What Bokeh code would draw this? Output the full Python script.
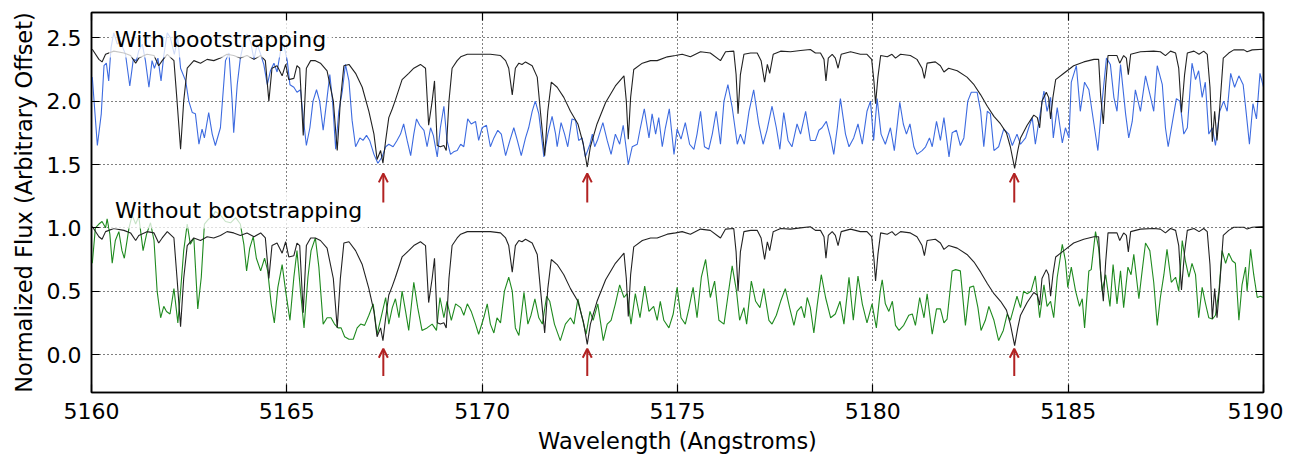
from bokeh.plotting import figure
from bokeh.models import Range1d, FixedTicker, LinearAxis, Label, Arrow, OpenHead, PrintfTickFormatter
from bokeh.embed import file_html
from bokeh.resources import INLINE

# ---------------- data ----------------
# Template (model) spectrum, normalized; drawn as-is in the lower panel and offset in the upper panel
template_wl = [
    5160.02, 5160.19, 5160.27, 5160.36, 5160.57, 5160.83, 5161.00, 5161.13, 5161.21, 5161.42,
    5161.60, 5161.72, 5161.81, 5161.94, 5162.11, 5162.19, 5162.28, 5162.36, 5162.45, 5162.62,
    5162.79, 5162.96, 5163.13, 5163.30, 5163.47, 5163.64, 5163.81, 5163.98, 5164.16, 5164.33,
    5164.45, 5164.54, 5164.62, 5164.75, 5164.88, 5164.97, 5165.05, 5165.18, 5165.26, 5165.33,
    5165.42, 5165.50, 5165.61, 5165.73, 5165.86, 5166.03, 5166.19, 5166.29, 5166.37, 5166.46,
    5166.59, 5166.76, 5166.93, 5167.10, 5167.23, 5167.31, 5167.40, 5167.46, 5167.53, 5167.61,
    5167.70, 5167.78, 5167.95, 5168.12, 5168.25, 5168.42, 5168.55, 5168.63, 5168.72, 5168.78,
    5168.85, 5168.93, 5169.02, 5169.08, 5169.15, 5169.23, 5169.36, 5169.45, 5169.62, 5169.96,
    5170.21, 5170.47, 5170.60, 5170.68, 5170.77, 5170.85, 5170.94, 5171.02, 5171.11, 5171.28,
    5171.41, 5171.49, 5171.60, 5171.68, 5171.77, 5171.92, 5172.09, 5172.26, 5172.45, 5172.59,
    5172.69, 5172.77, 5172.94, 5173.16, 5173.41, 5173.63, 5173.69, 5173.74, 5173.80, 5173.88,
    5174.10, 5174.31, 5174.48, 5174.74, 5174.95, 5175.12, 5175.33, 5175.59, 5175.84, 5176.10,
    5176.23, 5176.44, 5176.50, 5176.55, 5176.61, 5176.70, 5176.87, 5177.04, 5177.14, 5177.23,
    5177.30, 5177.36, 5177.45, 5177.64, 5177.89, 5178.15, 5178.40, 5178.53, 5178.66, 5178.75,
    5178.80, 5178.86, 5178.96, 5179.04, 5179.11, 5179.19, 5179.43, 5179.68, 5179.85, 5179.97,
    5180.03, 5180.07, 5180.13, 5180.20, 5180.37, 5180.49, 5180.58, 5180.71, 5180.96, 5181.13,
    5181.26, 5181.32, 5181.39, 5181.60, 5181.73, 5181.82, 5181.94, 5182.16, 5182.41, 5182.59,
    5182.76, 5182.93, 5183.10, 5183.27, 5183.42, 5183.52, 5183.63, 5183.71, 5183.78, 5183.95,
    5184.12, 5184.21, 5184.27, 5184.33, 5184.44, 5184.50, 5184.55, 5184.61, 5184.68, 5184.89,
    5185.14, 5185.40, 5185.66, 5185.78, 5185.83, 5185.90, 5185.96, 5186.02, 5186.13, 5186.25,
    5186.32, 5186.42, 5186.49, 5186.54, 5186.60, 5186.85, 5187.19, 5187.36, 5187.49, 5187.62,
    5187.75, 5187.83, 5187.90, 5187.98, 5188.05, 5188.22, 5188.35, 5188.47, 5188.56, 5188.63,
    5188.69, 5188.75, 5188.81, 5188.88, 5188.97, 5189.11, 5189.24, 5189.50, 5189.58, 5189.71,
    5190.00,
]
template_flux = [
    1.01, 0.93, 0.91, 0.97, 0.995, 0.98, 0.96, 0.90, 0.94, 0.97,
    0.96, 0.88, 0.92, 0.97, 0.92, 0.60, 0.22, 0.60, 0.86, 0.92,
    0.90, 0.93, 0.92, 0.94, 0.97, 0.96, 0.94, 0.96, 0.93, 0.96,
    0.92, 0.60, 0.86, 0.88, 0.80, 0.89, 0.77, 0.78, 0.88, 0.86,
    0.33, 0.86, 0.92, 0.92, 0.90, 0.84, 0.60, 0.21, 0.60, 0.88,
    0.89, 0.82, 0.71, 0.52, 0.34, 0.14, 0.21, 0.11, 0.29, 0.47,
    0.54, 0.61, 0.77, 0.82, 0.86, 0.89, 0.86, 0.41, 0.60, 0.76,
    0.25, 0.24, 0.25, 0.21, 0.60, 0.86, 0.92, 0.95, 0.97, 0.97,
    0.97, 0.96, 0.92, 0.86, 0.65, 0.86, 0.90, 0.89, 0.91, 0.88,
    0.79, 0.52, 0.17, 0.52, 0.75, 0.71, 0.63, 0.52, 0.42, 0.26,
    0.08, 0.24, 0.42, 0.59, 0.72, 0.80, 0.60, 0.30, 0.63, 0.85,
    0.90, 0.92, 0.92, 0.95, 0.96, 0.97, 0.95, 0.99, 0.98, 0.92,
    0.99, 0.995, 0.81, 0.50, 0.81, 0.97, 0.98, 0.98, 0.92, 0.75,
    0.89, 0.82, 0.97, 0.995, 0.99, 1.00, 1.008, 0.98, 0.98, 0.93,
    0.76, 0.94, 0.97, 0.94, 0.86, 0.97, 0.99, 0.97, 0.97, 0.93,
    0.75, 0.58, 0.79, 0.96, 0.95, 0.97, 0.94, 0.97, 0.96, 0.93,
    0.86, 0.78, 0.90, 0.91, 0.88, 0.83, 0.86, 0.84, 0.79, 0.73,
    0.65, 0.56, 0.48, 0.42, 0.35, 0.24, 0.07, 0.21, 0.31, 0.41,
    0.49, 0.47, 0.39, 0.60, 0.67, 0.63, 0.46, 0.63, 0.77, 0.82,
    0.88, 0.91, 0.93, 0.93, 0.65, 0.42, 0.73, 0.96, 0.96, 0.96,
    0.90, 0.96, 0.94, 0.81, 0.97, 0.99, 0.995, 0.99, 0.96, 0.995,
    0.98, 0.86, 0.51, 0.81, 0.98, 0.995, 0.97, 0.995, 0.97, 0.71,
    0.28, 0.52, 0.29, 0.55, 0.94, 0.98, 1.005, 1.005, 0.99, 1.005,
    1.01,
]
template_offset_top = 1.4

# Observed spectrum, "With bootstrapping" (upper panel)
boot_wl = [
    5160.02, 5160.15, 5160.25, 5160.32, 5160.38, 5160.44, 5160.50, 5160.57, 5160.66, 5160.74,
    5160.87, 5160.98, 5161.07, 5161.15, 5161.21, 5161.30, 5161.38, 5161.47, 5161.55, 5161.61,
    5161.70, 5161.78, 5161.85, 5161.94, 5162.02, 5162.12, 5162.21, 5162.28, 5162.41, 5162.49,
    5162.58, 5162.66, 5162.75, 5162.83, 5162.89, 5163.00, 5163.09, 5163.17, 5163.30, 5163.43,
    5163.52, 5163.60, 5163.64, 5163.73, 5163.81, 5163.90, 5163.98, 5164.07, 5164.16, 5164.24,
    5164.33, 5164.41, 5164.50, 5164.58, 5164.67, 5164.75, 5164.84, 5164.92, 5165.01, 5165.08,
    5165.18, 5165.26, 5165.35, 5165.42, 5165.50, 5165.59, 5165.67, 5165.76, 5165.84, 5165.93,
    5166.02, 5166.10, 5166.17, 5166.25, 5166.33, 5166.42, 5166.50, 5166.59, 5166.67, 5166.76,
    5166.87, 5166.95, 5167.04, 5167.12, 5167.23, 5167.33, 5167.44, 5167.53, 5167.61, 5167.72,
    5167.82, 5167.91, 5167.99, 5168.08, 5168.17, 5168.25, 5168.32, 5168.40, 5168.51, 5168.59,
    5168.68, 5168.75, 5168.85, 5168.93, 5169.02, 5169.10, 5169.19, 5169.27, 5169.36, 5169.45,
    5169.53, 5169.63, 5169.72, 5169.83, 5169.91, 5170.00, 5170.11, 5170.21, 5170.30, 5170.40,
    5170.49, 5170.60, 5170.71, 5170.81, 5170.90, 5171.00, 5171.11, 5171.19, 5171.28, 5171.36,
    5171.45, 5171.58, 5171.68, 5171.79, 5171.88, 5171.92, 5172.02, 5172.11, 5172.19, 5172.30,
    5172.39, 5172.47, 5172.56, 5172.64, 5172.76, 5172.82, 5172.88, 5172.96, 5173.09, 5173.20,
    5173.30, 5173.41, 5173.52, 5173.61, 5173.74, 5173.84, 5173.97, 5174.05, 5174.15, 5174.27,
    5174.35, 5174.44, 5174.52, 5174.61, 5174.69, 5174.79, 5174.91, 5174.99, 5175.09, 5175.20,
    5175.31, 5175.42, 5175.50, 5175.59, 5175.69, 5175.80, 5175.89, 5175.99, 5176.10, 5176.19,
    5176.29, 5176.40, 5176.53, 5176.61, 5176.71, 5176.83, 5176.95, 5177.08, 5177.19, 5177.29,
    5177.42, 5177.53, 5177.62, 5177.72, 5177.83, 5177.93, 5178.06, 5178.15, 5178.28, 5178.40,
    5178.53, 5178.62, 5178.70, 5178.81, 5178.92, 5179.00, 5179.09, 5179.17, 5179.30, 5179.39,
    5179.51, 5179.62, 5179.73, 5179.85, 5179.94, 5180.02, 5180.11, 5180.21, 5180.32, 5180.45,
    5180.55, 5180.69, 5180.78, 5180.86, 5180.95, 5181.05, 5181.13, 5181.26, 5181.35, 5181.45,
    5181.52, 5181.63, 5181.73, 5181.82, 5181.95, 5182.03, 5182.14, 5182.24, 5182.33, 5182.43,
    5182.52, 5182.67, 5182.76, 5182.84, 5182.93, 5183.01, 5183.10, 5183.22, 5183.35, 5183.48,
    5183.57, 5183.69, 5183.78, 5183.91, 5183.99, 5184.08, 5184.16, 5184.25, 5184.38, 5184.46,
    5184.55, 5184.62, 5184.72, 5184.85, 5184.93, 5185.02, 5185.08, 5185.21, 5185.31, 5185.42,
    5185.53, 5185.66, 5185.76, 5185.87, 5185.98, 5186.08, 5186.17, 5186.25, 5186.34, 5186.47,
    5186.55, 5186.64, 5186.72, 5186.85, 5186.98, 5187.11, 5187.19, 5187.28, 5187.41, 5187.49,
    5187.56, 5187.66, 5187.77, 5187.86, 5187.96, 5188.05, 5188.17, 5188.26, 5188.34, 5188.43,
    5188.51, 5188.60, 5188.69, 5188.77, 5188.88, 5188.98, 5189.07, 5189.16, 5189.26, 5189.37,
    5189.48, 5189.56, 5189.64, 5189.73, 5189.82, 5189.91, 5190.00,
]
boot_flux = [
    2.19, 1.65, 1.90, 2.28, 2.30, 2.16, 2.42, 2.54, 2.45, 2.47,
    2.37, 2.12, 2.33, 2.32, 2.40, 2.45, 2.32, 2.11, 2.32, 2.26,
    2.34, 2.16, 2.36, 2.54, 2.50, 2.37, 2.50, 2.26, 2.16, 2.00,
    1.91, 1.90, 1.66, 1.78, 1.71, 1.91, 1.74, 1.65, 1.79, 2.32,
    2.38, 2.00, 1.75, 2.13, 2.34, 2.47, 2.53, 2.47, 2.33, 2.45,
    2.37, 2.29, 2.13, 2.24, 2.30, 2.23, 2.40, 2.45, 2.32, 2.13,
    2.11, 2.07, 2.09, 1.87, 1.65, 1.79, 2.00, 2.09, 2.00, 1.77,
    2.00, 2.21, 2.00, 1.62, 1.92, 2.08, 2.29, 2.16, 1.85, 1.64,
    1.71, 1.69, 1.73, 1.69, 1.58, 1.51, 1.56, 1.64, 1.66, 1.64,
    1.69, 1.74, 1.82, 1.69, 1.57, 1.74, 1.86, 1.81, 1.77, 1.64,
    1.79, 1.73, 1.56, 1.79, 1.96, 1.69, 1.58, 1.60, 1.61, 1.66,
    1.64, 1.86, 1.82, 1.84, 1.69, 1.79, 1.81, 1.64, 1.71, 1.77,
    1.74, 1.57, 1.69, 1.79, 1.69, 1.57, 1.71, 1.79, 1.92, 2.00,
    1.90, 1.56, 1.74, 1.88, 1.74, 1.64, 1.83, 1.74, 1.64, 1.86,
    1.85, 1.69, 1.71, 1.56, 1.66, 1.74, 1.64, 1.70, 1.83, 1.69,
    1.58, 1.74, 1.66, 1.81, 1.50, 1.64, 1.66, 1.79, 1.94, 1.71,
    1.90, 1.74, 1.87, 1.64, 1.79, 1.94, 1.58, 1.78, 1.70, 1.83,
    1.66, 1.62, 1.74, 1.92, 1.64, 1.62, 1.74, 1.92, 1.66, 2.00,
    2.13, 1.95, 1.66, 1.74, 1.66, 1.92, 2.09, 1.82, 1.66, 1.77,
    1.96, 1.79, 1.62, 1.91, 1.69, 1.64, 1.82, 1.74, 1.92, 1.69,
    1.69, 1.77, 1.79, 1.84, 1.71, 1.58, 1.79, 2.02, 1.74, 1.64,
    1.71, 1.82, 1.66, 1.92, 2.00, 1.69, 2.02, 1.74, 1.66, 1.79,
    1.61, 1.99, 1.82, 1.74, 1.82, 1.64, 1.58, 1.61, 1.64, 1.71,
    1.64, 1.84, 1.69, 1.87, 1.56, 1.75, 1.77, 1.65, 1.71, 2.00,
    2.07, 2.07, 1.92, 1.64, 1.92, 1.90, 1.61, 1.64, 1.78, 1.74,
    1.65, 1.74, 1.66, 1.71, 1.79, 1.87, 1.66, 1.84, 2.08, 1.92,
    2.03, 1.71, 1.95, 1.67, 1.79, 1.71, 2.15, 2.28, 1.92, 2.15,
    2.09, 1.82, 1.61, 2.00, 2.34, 2.29, 2.03, 1.92, 2.29, 1.90,
    1.71, 1.84, 2.09, 1.92, 2.20, 2.03, 1.92, 2.28, 2.13, 1.79,
    1.64, 1.82, 2.02, 2.00, 1.74, 1.79, 2.30, 2.17, 2.24, 2.03,
    2.15, 1.74, 1.79, 1.65, 1.92, 2.00, 1.92, 2.22, 2.11, 2.20,
    2.13, 1.90, 1.66, 1.98, 1.86, 2.22, 2.11,
]

# Observed spectrum, "Without bootstrapping" (lower panel)
noboot_wl = [
    5160.02, 5160.10, 5160.19, 5160.27, 5160.36, 5160.40, 5160.47, 5160.53, 5160.61, 5160.70,
    5160.78, 5160.84, 5160.96, 5161.04, 5161.13, 5161.21, 5161.32, 5161.41, 5161.51, 5161.60,
    5161.68, 5161.77, 5161.85, 5161.92, 5162.01, 5162.11, 5162.21, 5162.28, 5162.36, 5162.45,
    5162.53, 5162.62, 5162.72, 5162.81, 5162.89, 5163.00, 5163.09, 5163.17, 5163.30, 5163.43,
    5163.56, 5163.69, 5163.81, 5163.90, 5163.97, 5164.05, 5164.14, 5164.22, 5164.33, 5164.43,
    5164.51, 5164.60, 5164.68, 5164.77, 5164.88, 5164.97, 5165.08, 5165.18, 5165.26, 5165.35,
    5165.44, 5165.54, 5165.62, 5165.73, 5165.82, 5165.93, 5166.03, 5166.13, 5166.22, 5166.31,
    5166.39, 5166.48, 5166.59, 5166.70, 5166.80, 5166.89, 5166.99, 5167.10, 5167.21, 5167.31,
    5167.41, 5167.53, 5167.61, 5167.70, 5167.78, 5167.87, 5167.95, 5168.04, 5168.12, 5168.25,
    5168.35, 5168.46, 5168.59, 5168.72, 5168.83, 5168.92, 5169.02, 5169.10, 5169.21, 5169.32,
    5169.45, 5169.53, 5169.62, 5169.72, 5169.83, 5169.91, 5170.04, 5170.13, 5170.21, 5170.30,
    5170.38, 5170.47, 5170.57, 5170.68, 5170.77, 5170.85, 5170.94, 5171.07, 5171.17, 5171.25,
    5171.35, 5171.45, 5171.54, 5171.65, 5171.73, 5171.85, 5172.00, 5172.13, 5172.26, 5172.35,
    5172.45, 5172.56, 5172.66, 5172.76, 5172.84, 5172.96, 5173.10, 5173.20, 5173.30, 5173.41,
    5173.52, 5173.63, 5173.71, 5173.81, 5173.92, 5174.04, 5174.16, 5174.27, 5174.39, 5174.48,
    5174.56, 5174.65, 5174.78, 5174.89, 5174.99, 5175.09, 5175.20, 5175.29, 5175.40, 5175.50,
    5175.61, 5175.72, 5175.84, 5175.95, 5176.06, 5176.19, 5176.29, 5176.40, 5176.51, 5176.59,
    5176.70, 5176.77, 5176.89, 5177.00, 5177.11, 5177.21, 5177.34, 5177.42, 5177.53, 5177.64,
    5177.76, 5177.87, 5177.98, 5178.06, 5178.17, 5178.25, 5178.32, 5178.40, 5178.49, 5178.58,
    5178.68, 5178.79, 5178.92, 5179.04, 5179.16, 5179.26, 5179.39, 5179.50, 5179.62, 5179.73,
    5179.85, 5179.98, 5180.09, 5180.19, 5180.24, 5180.32, 5180.41, 5180.50, 5180.58, 5180.67,
    5180.79, 5180.92, 5181.01, 5181.09, 5181.20, 5181.31, 5181.39, 5181.52, 5181.63, 5181.73,
    5181.82, 5181.90, 5182.03, 5182.12, 5182.24, 5182.37, 5182.48, 5182.58, 5182.69, 5182.77,
    5182.88, 5182.97, 5183.10, 5183.22, 5183.34, 5183.44, 5183.52, 5183.61, 5183.69, 5183.78,
    5183.86, 5183.95, 5184.05, 5184.16, 5184.27, 5184.38, 5184.46, 5184.55, 5184.63, 5184.72,
    5184.85, 5184.93, 5184.99, 5185.08, 5185.19, 5185.29, 5185.36, 5185.42, 5185.53, 5185.59,
    5185.70, 5185.78, 5185.87, 5185.96, 5186.07, 5186.15, 5186.25, 5186.34, 5186.42, 5186.53,
    5186.61, 5186.68, 5186.81, 5186.89, 5186.98, 5187.09, 5187.19, 5187.28, 5187.36, 5187.45,
    5187.53, 5187.64, 5187.75, 5187.83, 5187.92, 5188.00, 5188.09, 5188.17, 5188.26, 5188.34,
    5188.43, 5188.51, 5188.60, 5188.69, 5188.77, 5188.86, 5188.94, 5189.03, 5189.11, 5189.20,
    5189.28, 5189.37, 5189.45, 5189.54, 5189.58, 5189.67, 5189.75, 5189.84, 5189.92, 5190.00,
]
noboot_flux = [
    0.72, 1.00, 1.03, 1.05, 1.00, 1.07, 0.95, 0.72, 0.90, 0.97,
    0.82, 0.76, 1.00, 1.10, 1.03, 1.09, 0.82, 0.95, 1.04, 0.90,
    0.50, 0.29, 0.38, 0.34, 0.32, 0.52, 0.25, 0.50, 0.82, 1.03,
    0.87, 0.92, 0.36, 0.61, 1.03, 1.07, 1.08, 1.13, 1.10, 1.05,
    1.04, 1.08, 1.03, 0.87, 0.66, 0.84, 0.93, 0.76, 0.66, 0.76,
    0.66, 0.40, 0.25, 0.53, 0.71, 0.50, 0.27, 0.61, 0.82, 0.50,
    0.21, 0.61, 0.82, 0.92, 0.69, 0.24, 0.29, 0.29, 0.24, 0.21,
    0.21, 0.14, 0.12, 0.12, 0.21, 0.24, 0.23, 0.31, 0.40, 0.16,
    0.29, 0.45, 0.24, 0.37, 0.44, 0.29, 0.50, 0.34, 0.19, 0.57,
    0.37, 0.19, 0.21, 0.24, 0.19, 0.45, 0.29, 0.42, 0.27, 0.40,
    0.37, 0.31, 0.40, 0.34, 0.24, 0.16, 0.29, 0.40, 0.24, 0.17,
    0.29, 0.25, 0.50, 0.61, 0.50, 0.21, 0.15, 0.49, 0.24, 0.31,
    0.44, 0.29, 0.24, 0.46, 0.42, 0.24, 0.11, 0.24, 0.29, 0.24,
    0.44, 0.29, 0.16, 0.34, 0.27, 0.40, 0.11, 0.24, 0.27, 0.40,
    0.55, 0.45, 0.48, 0.24, 0.48, 0.29, 0.54, 0.34, 0.38, 0.27,
    0.42, 0.27, 0.21, 0.32, 0.53, 0.29, 0.24, 0.36, 0.53, 0.29,
    0.61, 0.75, 0.45, 0.58, 0.27, 0.24, 0.46, 0.70, 0.50, 0.27,
    0.37, 0.24, 0.58, 0.42, 0.37, 0.52, 0.27, 0.24, 0.31, 0.42,
    0.52, 0.37, 0.23, 0.34, 0.38, 0.29, 0.45, 0.37, 0.17, 0.40,
    0.63, 0.45, 0.29, 0.32, 0.42, 0.24, 0.61, 0.27, 0.62, 0.40,
    0.25, 0.40, 0.21, 0.50, 0.59, 0.40, 0.34, 0.42, 0.23, 0.19,
    0.23, 0.31, 0.32, 0.23, 0.45, 0.29, 0.48, 0.16, 0.36, 0.36,
    0.25, 0.28, 0.66, 0.67, 0.66, 0.23, 0.53, 0.54, 0.37, 0.19,
    0.27, 0.38, 0.27, 0.11, 0.19, 0.32, 0.27, 0.37, 0.46, 0.37,
    0.50, 0.48, 0.50, 0.62, 0.29, 0.55, 0.38, 0.42, 0.29, 0.61,
    0.87, 0.74, 0.53, 0.69, 0.50, 0.38, 0.44, 0.21, 0.66, 0.67,
    0.97, 0.84, 0.50, 0.63, 0.38, 0.71, 0.40, 0.66, 0.37, 0.69,
    0.63, 0.79, 0.44, 0.65, 0.88, 0.82, 0.57, 0.23, 0.45, 0.63,
    0.83, 0.57, 0.61, 0.50, 0.90, 0.74, 0.61, 0.72, 0.63, 0.29,
    0.53, 0.41, 0.29, 0.28, 0.31, 0.50, 0.82, 0.72, 0.80, 0.74,
    0.72, 0.27, 0.55, 0.69, 0.50, 0.83, 0.63, 0.45, 0.46, 0.45,
]

# Red arrows marking the strong lines
arrow_wl = [5167.47, 5172.69, 5183.62]
arrow_top_tail, arrow_top_tip = 1.20, 1.43
arrow_bot_tail, arrow_bot_tip = -0.17, 0.045

x_ticks = [5160, 5165, 5170, 5175, 5180, 5185, 5190]
y_ticks = [0.0, 0.5, 1.0, 1.5, 2.0, 2.5]
label_top = "With bootstrapping"
label_bottom = "Without bootstrapping"

# ---------------- figure ----------------
FONT = "DejaVu Sans"
p = figure(frame_width=1172, frame_height=380, output_backend="svg", toolbar_location=None,
           x_range=Range1d(5160, 5190), y_range=Range1d(-0.3, 2.7),
           min_border_left=91, min_border_right=20, min_border_top=12, min_border_bottom=52,
           background_fill_color="white", border_fill_color="white")
p.outline_line_color = "black"
p.outline_line_width = 1.5
p.outline_line_alpha = 1.0

template_top = [v + template_offset_top for v in template_flux]

p.line(boot_wl, boot_flux, line_color="#3d6be0", line_width=1.1)
p.line(template_wl, template_top, line_color="#222222", line_width=1.1)
p.line(noboot_wl, noboot_flux, line_color="#1f8a1f", line_width=1.1)
p.line(template_wl, template_flux, line_color="#222222", line_width=1.1)

for xw in arrow_wl:
    for tail, tip in ((arrow_top_tail, arrow_top_tip), (arrow_bot_tail, arrow_bot_tip)):
        p.add_layout(Arrow(end=OpenHead(size=9, line_color="#b22222", line_width=2),
                           x_start=xw, y_start=tail, x_end=xw, y_end=tip,
                           line_color="#b22222", line_width=2))

for txt, yv in ((label_top, 2.49), (label_bottom, 1.14)):
    p.add_layout(Label(x=5160.45, y=yv, text=txt, text_font=FONT, text_font_size="22px",
                       text_baseline="middle", text_align="left", text_color="black",
                       background_fill_color="white", background_fill_alpha=0.75,
                       padding=6))

# grid
for g in (p.xgrid, p.ygrid):
    g.grid_line_color = "black"
    g.grid_line_dash = "1 3"
    g.grid_line_width = 1
    g.grid_line_alpha = 1.0
p.xgrid.ticker = FixedTicker(ticks=x_ticks)
p.ygrid.ticker = FixedTicker(ticks=y_ticks)

# axes
xa = p.xaxis[0]
ya = p.yaxis[0]
xa.ticker = FixedTicker(ticks=x_ticks)
ya.ticker = FixedTicker(ticks=y_ticks)
xa.formatter = PrintfTickFormatter(format="%d")
ya.formatter = PrintfTickFormatter(format="%.1f")
xa.axis_label = "Wavelength (Angstroms)"
ya.axis_label = "Normalized Flux (Arbitrary Offset)"
for a in (xa, ya):
    a.major_tick_in = 8
    a.major_tick_out = 0
    a.minor_tick_in = 0
    a.minor_tick_out = 0
    a.major_tick_line_color = "black"
    a.major_tick_line_width = 1.2
    a.axis_line_color = "black"
    a.axis_line_width = 1.5
    a.major_label_text_font = FONT
    a.major_label_text_font_size = "22px"
    a.major_label_text_color = "black"
    a.axis_label_text_font = FONT
    a.axis_label_text_font_size = "22.5px"
    a.axis_label_text_font_style = "normal"
    a.axis_label_text_color = "black"
xa.major_label_standoff = 10
ya.major_label_standoff = 10
xa.axis_label_standoff = 6
ya.axis_label_standoff = 7

# tick marks only (no labels) on the top and right sides
for side, ticks in (("above", x_ticks), ("right", y_ticks)):
    ax = LinearAxis(ticker=FixedTicker(ticks=ticks), major_tick_in=8, major_tick_out=0,
                    minor_tick_in=0, minor_tick_out=0,
                    major_label_text_font_size="1px", major_label_text_color=None,
                    major_label_standoff=0, axis_line_color="black", axis_line_width=1.5,
                    major_tick_line_color="black", major_tick_line_width=1.2)
    p.add_layout(ax, side)

open("out.html", "w").write(file_html(p, INLINE))
